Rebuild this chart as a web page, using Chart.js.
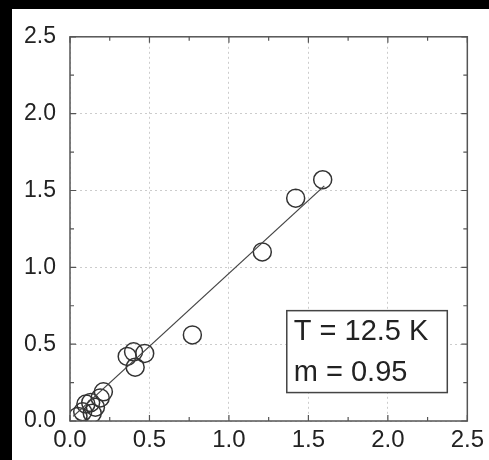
<!DOCTYPE html>
<html>
<head>
<meta charset="utf-8">
<script src="https://cdn.jsdelivr.net/npm/chart.js@4"></script>
<style>
  html, body { margin: 0; padding: 0; background: #000; width: 489px; height: 460px; overflow: hidden; }
  #wrap { position: absolute; left: 12px; top: 9px; width: 477px; height: 451px; background: #fff; }
</style>
</head>
<body>
<div id="wrap"><canvas id="chart" width="477" height="451"></canvas></div>
<script>
const xVals = [0.05, 0.08, 0.10, 0.14, 0.16, 0.13, 0.19, 0.21, 0.36, 0.41, 0.40, 0.47, 0.77, 1.21, 1.42, 1.59];
const yVals = [0.03, 0.06, 0.11, 0.05, 0.09, 0.12, 0.15, 0.19, 0.42, 0.35, 0.45, 0.44, 0.56, 1.10, 1.45, 1.57];

// linear fit
const fitX = [0.02, 1.60];
const fitY = [0.03, 1.53];

const axisMin = 0;
const axisMax = 2.5;
const majorStep = 0.5;
const minorStep = 0.25;

const boxLines = ['T = 12.5 K', 'm = 0.95'];
const boxCorners = { x1: 1.364, x2: 2.374, y1: 0.718, y2: 0.185 };

const points = xVals.map((x, i) => ({ x: x, y: yVals[i] }));
const fitLine = fitX.map((x, i) => ({ x: x, y: fitY[i] }));

// frame with inward ticks on all four sides + text box
const framePlugin = {
  id: 'frame',
  afterDraw(chart) {
    const ctx = chart.ctx;
    const a = chart.chartArea;
    const xs = chart.scales.x;
    const ys = chart.scales.y;
    ctx.save();
    ctx.strokeStyle = '#555';
    ctx.lineWidth = 1.5;
    ctx.strokeRect(a.left, a.top, a.right - a.left, a.bottom - a.top);

    ctx.lineWidth = 1.2;
    for (let v = axisMin; v <= axisMax + 1e-9; v += minorStep) {
      const major = Math.abs(v / majorStep - Math.round(v / majorStep)) < 1e-6;
      const len = major ? 6 : 4;
      const px = xs.getPixelForValue(v);
      const py = ys.getPixelForValue(v);
      ctx.beginPath();
      ctx.moveTo(px, a.bottom); ctx.lineTo(px, a.bottom - len);
      ctx.moveTo(px, a.top); ctx.lineTo(px, a.top + len);
      ctx.moveTo(a.left, py); ctx.lineTo(a.left + len, py);
      ctx.moveTo(a.right, py); ctx.lineTo(a.right - len, py);
      ctx.stroke();
    }

    // annotation box
    const bx1 = xs.getPixelForValue(boxCorners.x1);
    const bx2 = xs.getPixelForValue(boxCorners.x2);
    const by1 = ys.getPixelForValue(boxCorners.y1);
    const by2 = ys.getPixelForValue(boxCorners.y2);
    ctx.fillStyle = '#fff';
    ctx.fillRect(bx1, by1, bx2 - bx1, by2 - by1);
    ctx.strokeStyle = '#444';
    ctx.lineWidth = 1.5;
    ctx.strokeRect(bx1, by1, bx2 - bx1, by2 - by1);
    ctx.fillStyle = '#222';
    ctx.font = '29px "Liberation Sans", Arial, sans-serif';
    ctx.textBaseline = 'middle';
    const lh = (by2 - by1) / boxLines.length;
    boxLines.forEach((t, i) => {
      ctx.fillText(t, bx1 + 7, by1 + lh * (i + 0.5) + 1);
    });
    ctx.restore();
  }
};

const tickFmt = v => Number(v).toFixed(1);

new Chart(document.getElementById('chart'), {
  type: 'scatter',
  data: {
    datasets: [{
      type: 'line',
      data: fitLine,
      borderColor: '#444',
      borderWidth: 1.3,
      pointRadius: 0,
      fill: false
    }, {
      data: points,
      pointRadius: 9,
      pointBorderWidth: 1.5,
      pointBorderColor: '#333',
      pointBackgroundColor: 'rgba(0,0,0,0)'
    }]
  },
  options: {
    responsive: false,
    devicePixelRatio: 1,
    animation: false,
    layout: { padding: { left: 0, right: 17, top: 16, bottom: 0 } },
    plugins: { legend: { display: false }, tooltip: { enabled: false } },
    scales: {
      x: {
        type: 'linear',
        min: axisMin,
        max: axisMax,
        afterFit(scale) { scale.height = 39; },
        ticks: {
          stepSize: majorStep,
          callback: tickFmt,
          color: '#222',
          padding: 5,
          maxRotation: 0,
          font: { family: '"Liberation Sans", Arial, sans-serif', size: 24 }
        },
        grid: { color: '#cccccc', lineWidth: 1, drawTicks: false },
        border: { display: false, dash: [2, 3] }
      },
      y: {
        type: 'linear',
        min: axisMin,
        max: axisMax,
        afterFit(scale) { scale.width = 58; },
        ticks: {
          stepSize: majorStep,
          callback: tickFmt,
          color: '#222',
          padding: 14,
          font: { family: '"Liberation Sans", Arial, sans-serif', size: 23 }
        },
        grid: { color: '#cccccc', lineWidth: 1, drawTicks: false },
        border: { display: false, dash: [2, 3] }
      }
    }
  },
  plugins: [framePlugin]
});
</script>
</body>
</html>
